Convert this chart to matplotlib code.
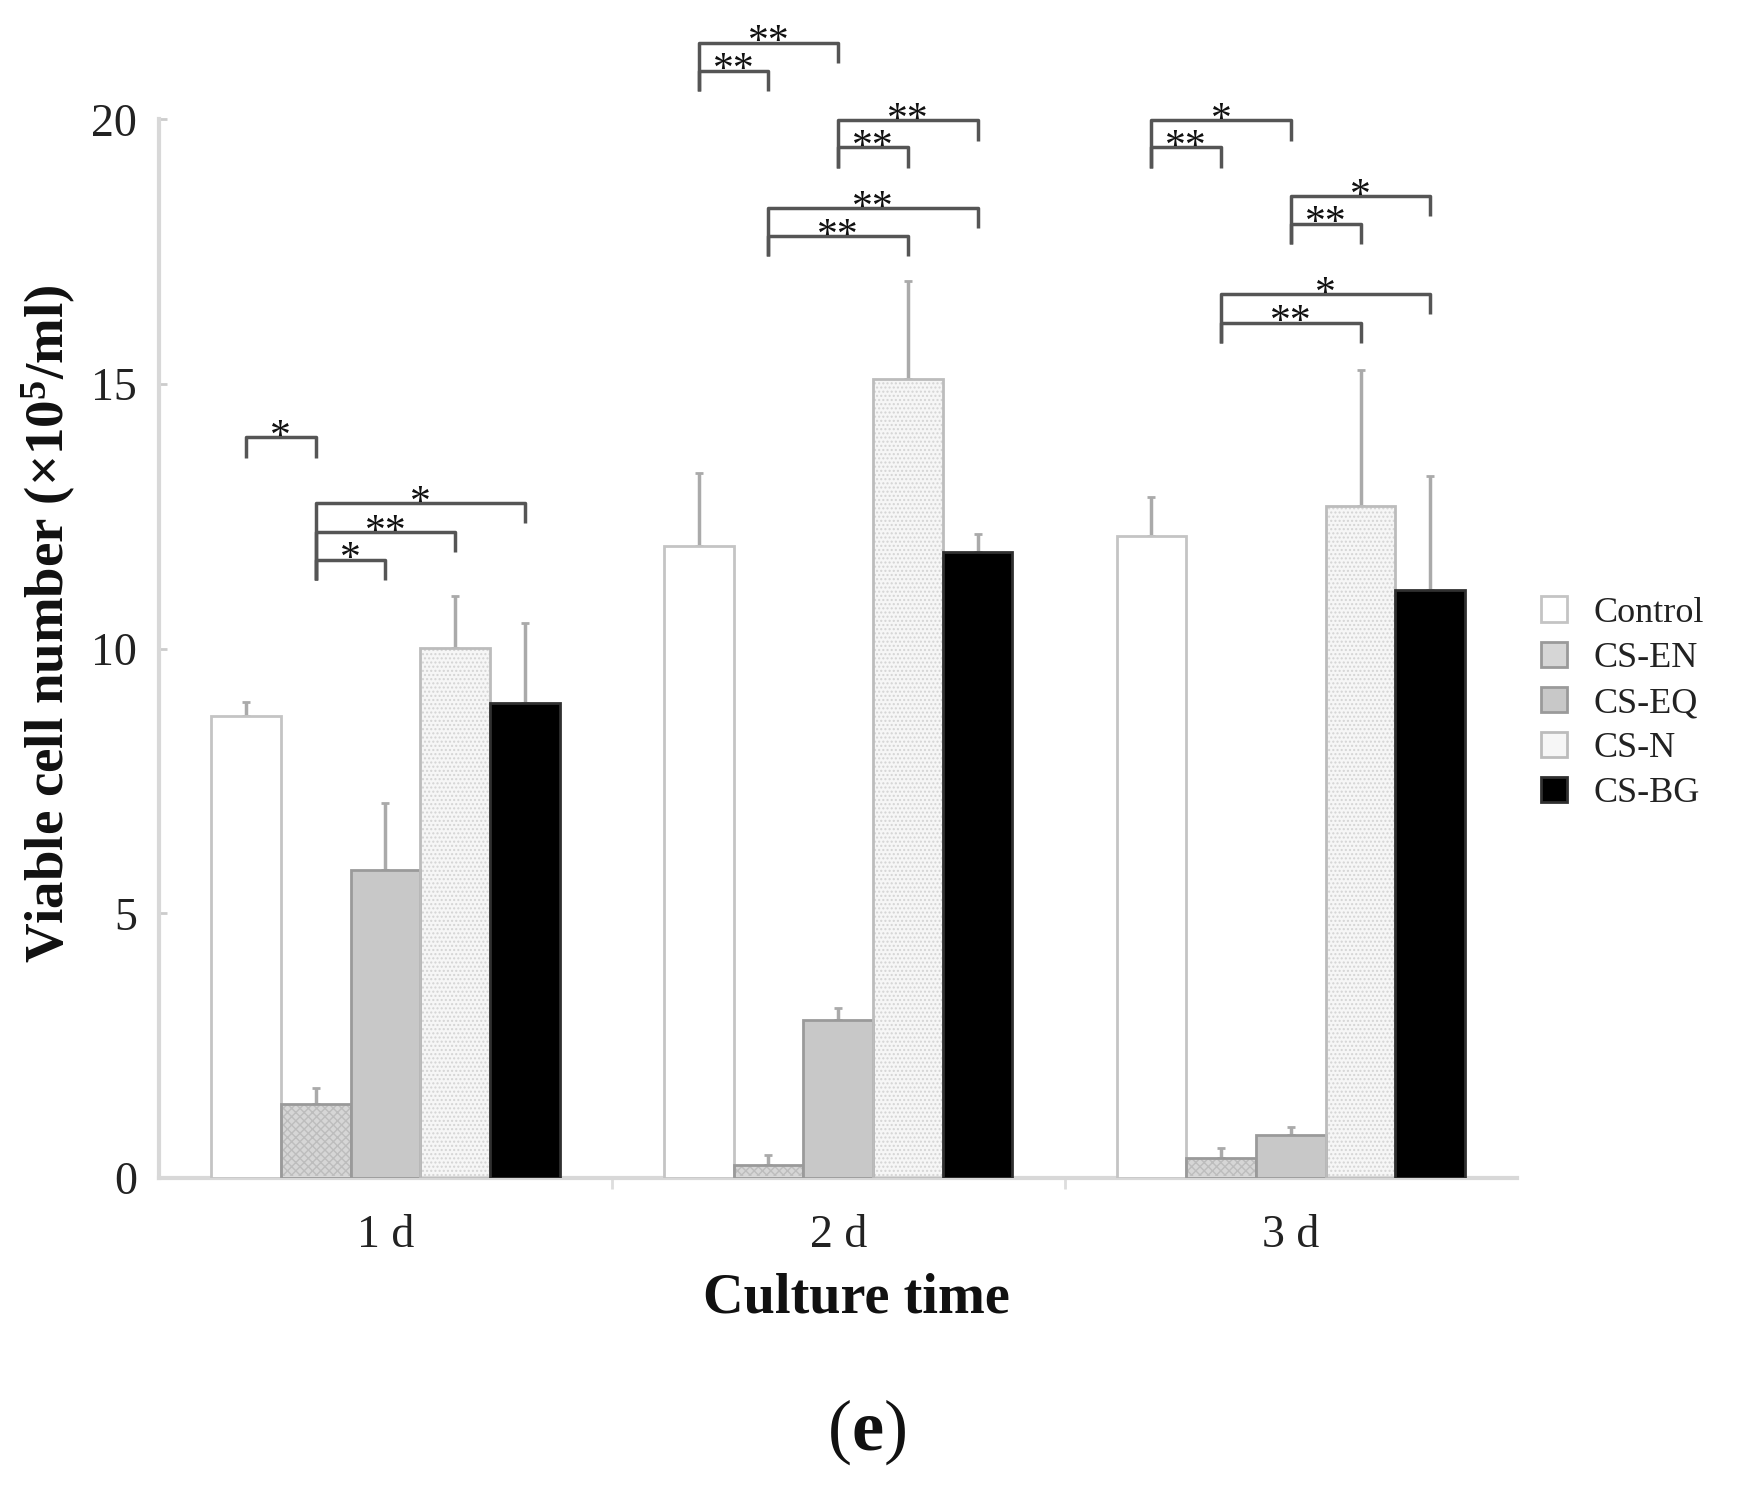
import matplotlib
matplotlib.use("Agg")
import matplotlib.pyplot as plt
from matplotlib.patches import Patch
import numpy as np

plt.rcParams['font.family'] = ['Liberation Serif', 'DejaVu Serif']
plt.rcParams['mathtext.fontset'] = 'custom'
plt.rcParams['mathtext.rm'] = 'Liberation Serif'
plt.rcParams['mathtext.bf'] = 'Liberation Serif:bold'
plt.rcParams['mathtext.it'] = 'Liberation Serif:italic'

# ---- data ----
days = ["1 d", "2 d", "3 d"]
groups = ["Control", "CS-EN", "CS-EQ", "CS-N", "CS-BG"]
control = [8.72, 11.93, 12.12]
cs_en = [1.39, 0.25, 0.38]
cs_eq = [5.82, 2.98, 0.82]
cs_n = [10.02, 15.10, 12.69]
cs_bg = [8.97, 11.83, 11.11]
control_err = [0.27, 1.39, 0.74]
cs_en_err = [0.31, 0.19, 0.19]
cs_eq_err = [1.26, 0.23, 0.15]
cs_n_err = [0.97, 1.85, 2.58]
cs_bg_err = [1.51, 0.33, 2.15]
yticks = [0, 5, 10, 15, 20]
# significance brackets: (day index, left group, right group, height, label)
brackets = [
    (0, 0, 1, 13.99, "*"), (0, 1, 2, 11.68, "*"), (0, 1, 3, 12.20, "**"), (0, 1, 4, 12.75, "*"),
    (1, 0, 1, 20.92, "**"), (1, 0, 2, 21.45, "**"), (1, 2, 3, 19.47, "**"), (1, 2, 4, 19.98, "**"),
    (1, 1, 3, 17.79, "**"), (1, 1, 4, 18.32, "**"),
    (2, 0, 1, 19.47, "**"), (2, 0, 2, 19.98, "*"), (2, 2, 3, 18.03, "**"), (2, 2, 4, 18.55, "*"),
    (2, 1, 3, 16.16, "**"), (2, 1, 4, 16.70, "*"),
]

values = [control, cs_en, cs_eq, cs_n, cs_bg]
errors = [control_err, cs_en_err, cs_eq_err, cs_n_err, cs_bg_err]

face = ['white', '#d6d6d6', '#c8c8c8', '#f6f6f6', 'black']
edge = ['#c4c4c4', '#9a9a9a', '#9a9a9a', '#bcbcbc', '#303030']
hatch = [None, 'xxxx', None, '....', None]
hatchcol = [None, '#bdbdbd', None, '#d4d4d4', None]

fig = plt.figure(figsize=(17.44, 14.92), dpi=100)
ax = fig.add_axes([0.0912, 0.2105, 0.7788, 0.7095])

x = np.arange(len(days))
w = 0.154
for k in range(5):
    pos = x + (k - 2) * w
    if hatch[k]:
        ax.bar(pos, values[k], w, color=face[k], edgecolor=hatchcol[k], hatch=hatch[k],
               linewidth=0, zorder=2)
        ax.bar(pos, values[k], w, facecolor='none', edgecolor=edge[k], linewidth=2, zorder=3)
    else:
        ax.bar(pos, values[k], w, color=face[k], edgecolor=edge[k], linewidth=2, zorder=3)
    ax.errorbar(pos, values[k], yerr=[np.zeros(3), errors[k]], fmt='none',
                ecolor='#aaaaaa', elinewidth=2.5, capsize=3, capthick=2, zorder=1)

# brackets
leg = 0.38
for (d, i, j, y, lab) in brackets:
    xl = x[d] + (i - 2) * w
    xr = x[d] + (j - 2) * w
    lows = [b[3] for b in brackets if b[0] == d and b[1] == i]
    ybot_left = min(lows) - leg
    ax.plot([xl, xl, xr, xr], [ybot_left, y, y, y - leg], color='#555555', lw=2.5,
            clip_on=False, zorder=4, solid_capstyle='butt')
    ax.text((xl + xr) / 2, y - 0.2, lab, ha='center', va='baseline', fontsize=30,
            color='#111111', clip_on=False, zorder=5)

ax.set_xlim(-0.5, 2.5)
ax.set_ylim(0, 20)
ax.set_yticks(yticks)
ax.set_yticklabels([str(t) for t in yticks])
ax.set_xticks(x)
ax.set_xticklabels(days)
ax.set_xticks([0.5, 1.5], minor=True)
ax.tick_params(axis='y', direction='in', length=6, width=2, color='#cccccc',
               labelsize=33, pad=16, labelcolor='#222222')
ax.tick_params(axis='x', which='major', length=0, labelsize=33, pad=26, labelcolor='#222222')
ax.tick_params(axis='x', which='minor', direction='out', length=8, width=2, color='#dddddd')
for s in ['top', 'right']:
    ax.spines[s].set_visible(False)
for s in ['left', 'bottom']:
    ax.spines[s].set_color('#d8d8d8')
    ax.spines[s].set_linewidth(3)

fig.text(0.028, 0.582, r'Viable cell number (×10$^{\mathbf{5}}$/ml)', rotation=90,
         ha='center', va='center', fontsize=39.5, fontweight='bold', color='#111111')
fig.text(0.491, 0.130, 'Culture time', ha='center', va='center', fontsize=40.5,
         fontweight='bold', color='#111111')
fig.text(0.497, 0.040, r'$(\mathbf{e})$', ha='center', va='center', fontsize=52, color='#111111')

handles = [Patch(facecolor=face[k], edgecolor=edge[k], linewidth=2, label=groups[k])
           for k in range(5)]
lg = ax.legend(handles=handles, loc='upper left', bbox_to_anchor=(1.007, 0.563), frameon=False,
               fontsize=26, handlelength=0.7, handleheight=0.7, handletextpad=0.75,
               labelspacing=0.33, borderaxespad=0)
for t in lg.get_texts():
    t.set_color('#222222')

fig.savefig('out.png', dpi=100, facecolor='white')
